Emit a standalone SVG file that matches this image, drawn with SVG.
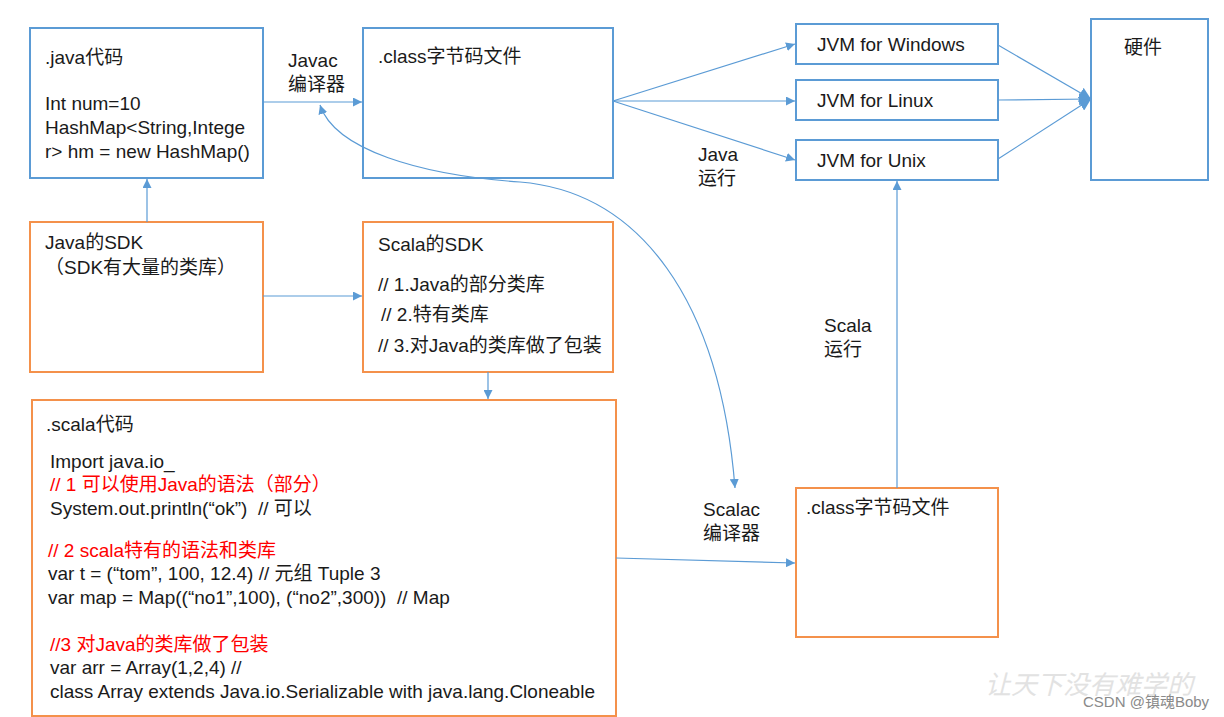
<svg xmlns="http://www.w3.org/2000/svg" width="1224" height="717" viewBox="0 0 1224 717">
<style>
  .t{font-family:"Liberation Sans","Noto Sans CJK SC",sans-serif;font-size:19px;fill:#1a1a1a;white-space:pre}
  .r{fill:#ff0000}
  .bb{fill:#fff;stroke:#5B9BD5;stroke-width:2}
  .ob{fill:#fff;stroke:#F4914B;stroke-width:2}
  .c{fill:none;stroke:#5B9BD5;stroke-width:1.2}
</style>
<defs>
  <marker id="ah" viewBox="0 0 10 10" refX="10" refY="5" markerWidth="9" markerHeight="9" markerUnits="userSpaceOnUse" orient="auto-start-reverse">
    <path d="M0,0 L10,5 L0,10 z" fill="#5B9BD5"/>
  </marker>
  <marker id="ah2" viewBox="0 0 10 10" refX="10" refY="5" markerWidth="12" markerHeight="12" markerUnits="userSpaceOnUse" orient="auto">
    <path d="M0,0 L10,5 L0,10 z" fill="#5B9BD5"/>
  </marker>
</defs>
<rect width="1224" height="717" fill="#fff"/>

<g id="java-code">
  <rect class="bb" x="30" y="28" width="233" height="150"/>
  <text class="t" x="45" y="64">.java代码</text>
  <text class="t" x="45" y="110">Int num=10</text>
  <text class="t" x="45" y="134">HashMap&lt;String,Intege</text>
  <text class="t" x="45" y="158">r&gt; hm = new HashMap()</text>
</g>
<g id="class-java">
  <rect class="bb" x="363" y="28" width="250" height="150"/>
  <text class="t" x="378" y="63">.class字节码文件</text>
</g>
<g id="jvm-windows">
  <rect class="bb" x="796" y="24" width="202" height="40"/>
  <text class="t" x="817" y="51">JVM for Windows</text>
</g>
<g id="jvm-linux">
  <rect class="bb" x="796" y="80" width="202" height="40"/>
  <text class="t" x="817" y="107">JVM for Linux</text>
</g>
<g id="jvm-unix">
  <rect class="bb" x="796" y="140" width="202" height="40"/>
  <text class="t" x="817" y="167">JVM for Unix</text>
</g>
<g id="hardware">
  <rect class="bb" x="1091" y="19" width="117" height="161"/>
  <text class="t" x="1124" y="54">硬件</text>
</g>
<g id="java-sdk">
  <rect class="ob" x="30" y="222" width="233" height="150"/>
  <text class="t" x="45" y="249">Java的SDK</text>
  <text class="t" x="45" y="274">（SDK有大量的类库）</text>
</g>
<g id="scala-sdk">
  <rect class="ob" x="363" y="222" width="250" height="150"/>
  <text class="t" x="378" y="251">Scala的SDK</text>
  <text class="t" x="378" y="291">// 1.Java的部分类库</text>
  <text class="t" x="381" y="321">// 2.特有类库</text>
  <text class="t" x="378" y="352">// 3.对Java的类库做了包装</text>
</g>
<g id="scala-code">
  <rect class="ob" x="32" y="400" width="584" height="316"/>
  <text class="t" x="46" y="431">.scala代码</text>
  <text class="t" x="50" y="468">Import java.io_</text>
  <text class="t r" x="50" y="491">// 1 可以使用Java的语法（部分）</text>
  <text class="t" x="50" y="515">System.out.println(“ok”)  // 可以</text>
  <text class="t r" x="48" y="557">// 2 scala特有的语法和类库</text>
  <text class="t" x="48" y="580">var t = (“tom”, 100, 12.4) // 元组 Tuple 3</text>
  <text class="t" x="48" y="604">var map = Map((“no1”,100), (“no2”,300))  // Map</text>
  <text class="t r" x="50" y="651">//3 对Java的类库做了包装</text>
  <text class="t" x="50" y="674">var arr = Array(1,2,4) //</text>
  <text class="t" x="50" y="698">class Array extends Java.io.Serializable with java.lang.Cloneable</text>
</g>
<g id="class-scala">
  <rect class="ob" x="796" y="488" width="202" height="149"/>
  <text class="t" x="806" y="514">.class字节码文件</text>
</g>

<g id="labels">
  <text class="t" x="288" y="67">Javac</text>
  <text class="t" x="288" y="91">编译器</text>
  <text class="t" x="698" y="161">Java</text>
  <text class="t" x="698" y="185">运行</text>
  <text class="t" x="824" y="332">Scala</text>
  <text class="t" x="824" y="356">运行</text>
  <text class="t" x="703" y="516">Scalac</text>
  <text class="t" x="703" y="540">编译器</text>
</g>

<g id="connectors">
  <line class="c" x1="263" y1="102" x2="362" y2="102" marker-end="url(#ah)"/>
  <line class="c" x1="147" y1="222" x2="147" y2="179" marker-end="url(#ah)"/>
  <line class="c" x1="263" y1="296" x2="362" y2="296" marker-end="url(#ah)"/>
  <line class="c" x1="488" y1="372" x2="488" y2="399" marker-end="url(#ah)"/>
  <line class="c" x1="613" y1="101" x2="795" y2="44" marker-end="url(#ah)"/>
  <line class="c" x1="613" y1="101" x2="795" y2="101" marker-end="url(#ah)"/>
  <line class="c" x1="613" y1="101" x2="795" y2="160" marker-end="url(#ah)"/>
  <line class="c" x1="998" y1="45" x2="1091" y2="99" marker-end="url(#ah2)"/>
  <line class="c" x1="998" y1="100" x2="1091" y2="99" marker-end="url(#ah2)"/>
  <line class="c" x1="998" y1="159" x2="1091" y2="99" marker-end="url(#ah2)"/>
  <line class="c" x1="616" y1="558" x2="795" y2="563" marker-end="url(#ah)"/>
  <line class="c" x1="897" y1="488" x2="897" y2="181" marker-end="url(#ah)"/>
  <path class="c" d="M320,105 C335,150 420,175 520,182 C640,192 720,300 735,488" marker-start="url(#ah)" marker-end="url(#ah)"/>
</g>

<g id="watermark">
  <text x="985" y="694" font-family="'Noto Sans CJK SC',sans-serif" font-size="26" font-style="italic" fill="#e2e2e2">让天下没有难学的</text>
  <text x="1083" y="707" font-family="'Liberation Sans','Noto Sans CJK SC',sans-serif" font-size="15" fill="#8a8a8a">CSDN @镇魂Boby</text>
</g>
</svg>
